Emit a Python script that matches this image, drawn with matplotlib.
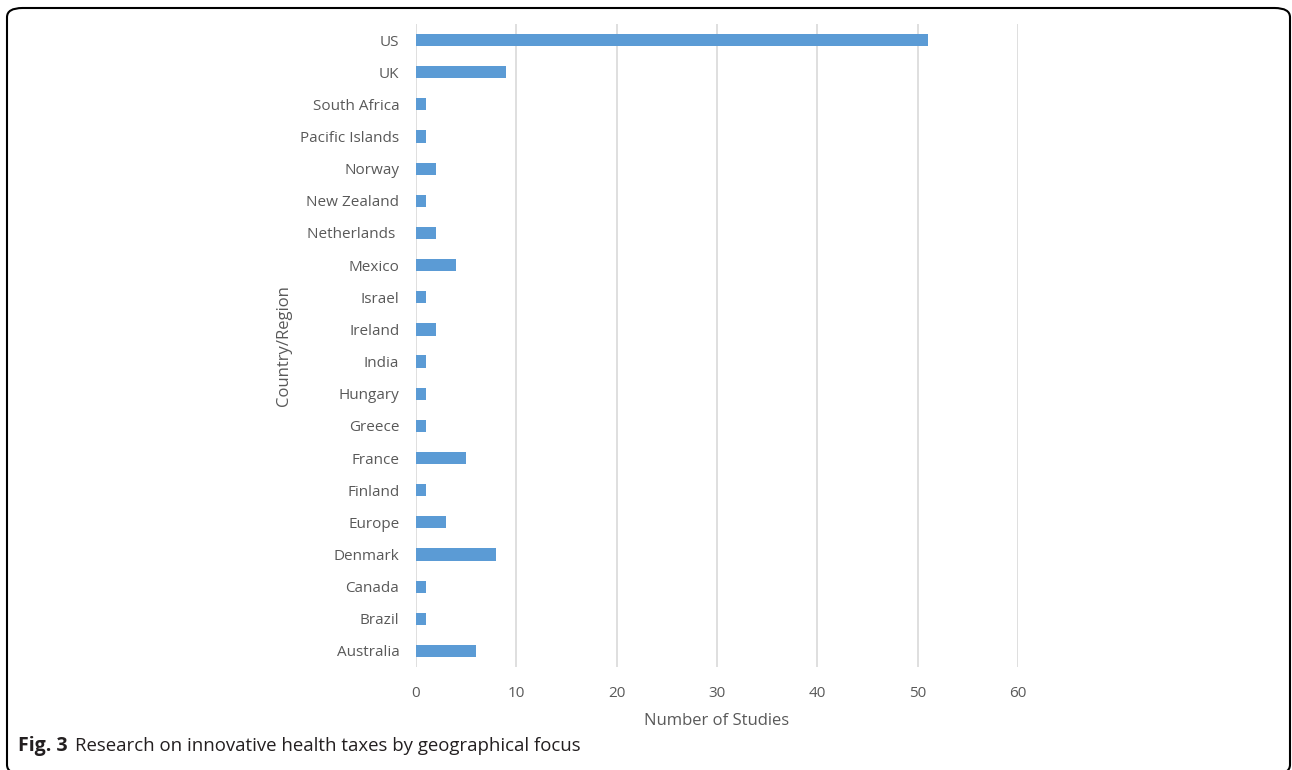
import matplotlib
matplotlib.use("Agg")
import matplotlib.pyplot as plt
from matplotlib.patches import FancyBboxPatch

countries = ["US", "UK", "South Africa", "Pacific Islands", "Norway", "New Zealand",
             "Netherlands ", "Mexico", "Israel", "Ireland", "India", "Hungary",
             "Greece", "France", "Finland", "Europe", "Denmark", "Canada",
             "Brazil", "Australia"]
studies = [51, 9, 1, 1, 2, 1, 2, 4, 1, 2, 1, 1, 1, 5, 1, 3, 8, 1, 1, 6]
xticks = [0, 10, 20, 30, 40, 50, 60]

plt.rcParams["font.family"] = ["Open Sans", "DejaVu Sans"]
grey = "#595959"

fig = plt.figure(figsize=(12.92, 7.70), dpi=100)
ax = fig.add_axes([416/1292, 1 - 667/770, (1018 - 416)/1292, (667 - 24)/770])

ypos = list(range(len(countries)))
ax.barh(ypos, studies, height=0.38, color="#5B9BD5", zorder=3)
ax.set_ylim(len(countries) - 0.5, -0.5)
ax.set_xlim(0, 60)
ax.set_yticks(ypos)
ax.set_yticklabels(countries, fontsize=11, color=grey)
ax.set_xticks(xticks)
ax.set_xticklabels([str(t) for t in xticks], fontsize=11, color=grey)
ax.tick_params(axis="y", length=0, pad=12)
ax.tick_params(axis="x", length=0, pad=14)
ax.grid(axis="x", color="#d9d9d9", linewidth=1.2, zorder=0)
for s in ax.spines.values():
    s.set_visible(False)
ax.set_xlabel("Number of Studies", fontsize=12, color=grey, labelpad=8)
ax.set_ylabel("Country/Region", fontsize=12, color=grey, labelpad=6)

border = FancyBboxPatch((7/1292, -4/770), 1283/1292, 766/770,
                        boxstyle="round,pad=0,rounding_size=0.012",
                        transform=fig.transFigure, fill=False,
                        edgecolor="black", linewidth=1.5)
fig.patches.append(border)

t1 = fig.text(18/1292, 1 - 751/770, "Fig. 3", fontsize=14, fontweight="bold",
              va="baseline", color="#231f20")
fig.canvas.draw()
bb = t1.get_window_extent()
fig.text((bb.x1 + 7)/1292, 1 - 751/770,
         "Research on innovative health taxes by geographical focus",
         fontsize=13.4, va="baseline", color="#231f20")

fig.savefig("out.png", dpi=100)
